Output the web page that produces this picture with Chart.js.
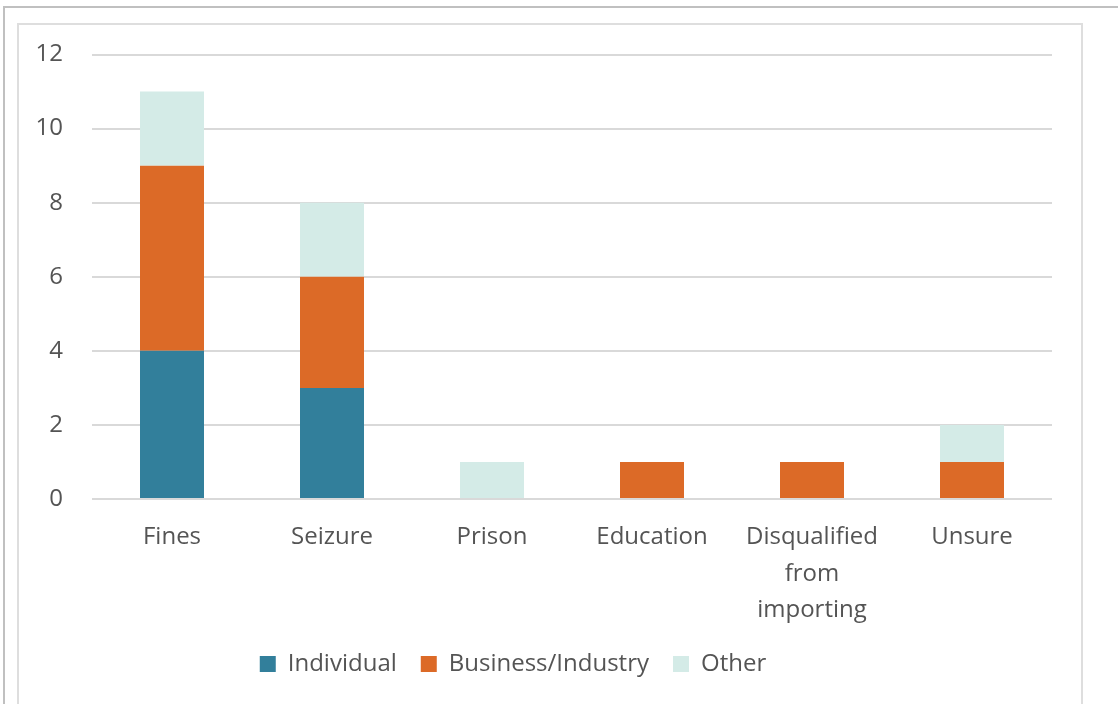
<!DOCTYPE html>
<html>
<head>
<meta charset="utf-8">
<script src="https://cdn.jsdelivr.net/npm/chart.js@4"></script>
<style>
  html, body { margin: 0; padding: 0; background: #fff; }
  body { width: 1118px; height: 704px; position: relative; overflow: hidden; }
  .outer { position: absolute; left: 3px; top: 6px; width: 1200px; height: 800px; border: 2px solid #c0c0c0; }
  .inner { position: absolute; left: 17px; top: 23px; width: 1062px; height: 800px; border: 2px solid #dedede; }
  #wrap { position: absolute; left: -26px; top: 25px; width: 1107px; height: 679px; }
</style>
</head>
<body>
<div class="outer"></div>
<div class="inner"></div>
<div id="wrap"><canvas id="chart"></canvas></div>
<script>
const categories = ["Fines", "Seizure", "Prison", "Education", ["Disqualified", "from", "importing"], "Unsure"];
const individual = [4, 3, 0, 0, 0, 0];
const business = [5, 3, 0, 1, 1, 1];
const other = [2, 2, 1, 0, 0, 1];
const yTicks = [0, 2, 4, 6, 8, 10, 12];

const textColor = "#545454";
const font = { family: "'Open Sans', sans-serif", size: 24 };

new Chart(document.getElementById("chart"), {
  type: "bar",
  data: {
    labels: categories,
    datasets: [
      { label: "Individual", data: individual, backgroundColor: "#327f9b" },
      { label: "Business/Industry", data: business, backgroundColor: "#dc6a27" },
      { label: "Other", data: other, backgroundColor: "#d4ebe7" },
    ],
  },
  options: {
    responsive: true,
    maintainAspectRatio: false,
    animation: false,
    datasets: { bar: { categoryPercentage: 1, barPercentage: 0.4 } },
    layout: { padding: { left: 0, right: 29, top: 29.5, bottom: 18 } },
    scales: {
      x: {
        stacked: true,
        grid: { display: false, drawTicks: false },
        border: { display: false },
        ticks: { color: textColor, font: { ...font, lineHeight: 1.52 }, padding: 20, maxRotation: 0, autoSkip: false },
        afterFit: (s) => { s.height = 129; },
      },
      y: {
        stacked: true,
        min: 0,
        max: 12,
        afterBuildTicks: (s) => { s.ticks = yTicks.map((v) => ({ value: v })); },
        // invisible tick marks give the label gap without adding top padding
        grid: { color: "#d9d9d9", lineWidth: 2, drawTicks: true, tickLength: 14, tickColor: "transparent" },
        border: { display: false },
        ticks: { color: textColor, font, padding: 15 },
        afterFit: (s) => { s.width = 118; },
      },
    },
    plugins: {
      tooltip: { enabled: false },
      legend: {
        position: "bottom",
        labels: { color: textColor, font, boxWidth: 16, boxHeight: 16, padding: 24 },
      },
    },
  },
});
</script>
</body>
</html>
